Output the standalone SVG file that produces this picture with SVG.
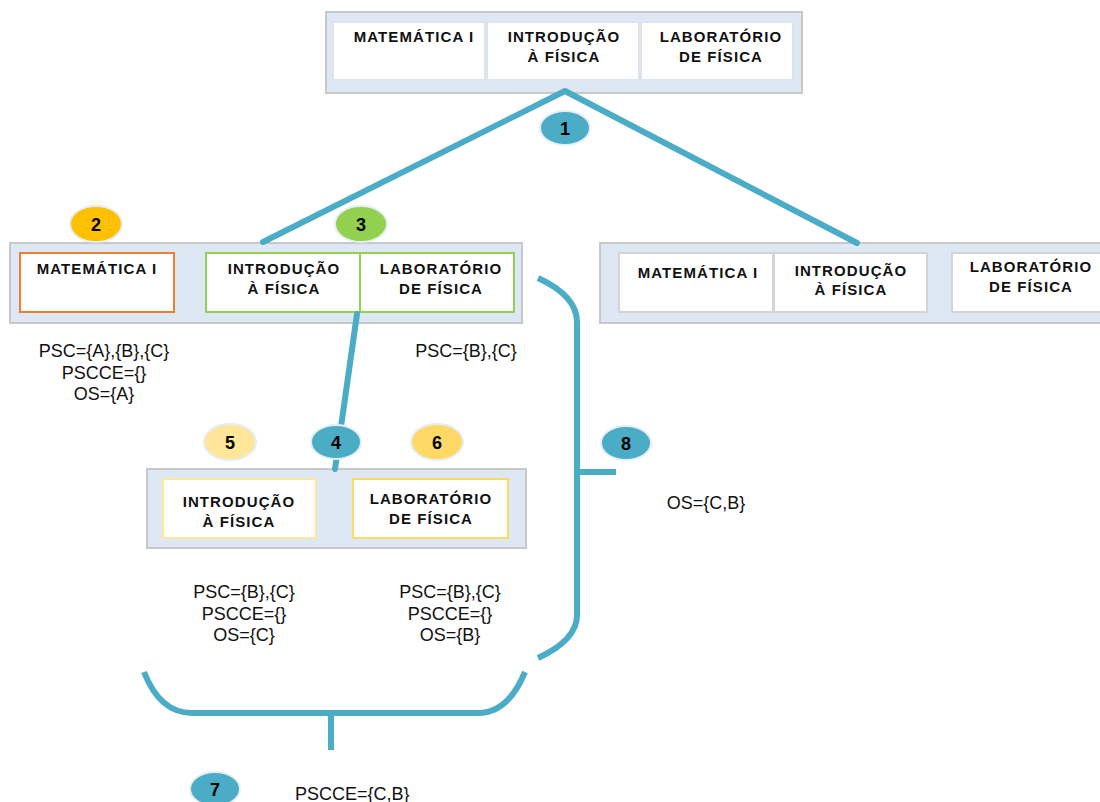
<svg xmlns="http://www.w3.org/2000/svg" width="1100" height="802" viewBox="0 0 1100 802">
<style>
.outer{fill:#dde8f4;stroke:#c8c8c8;stroke-width:2}
.cell{fill:#ffffff;stroke:#dde4ec;stroke-width:2}
.cellg{fill:#ffffff;stroke:#d4d4d4;stroke-width:2}
.t{font-family:"Liberation Sans",Arial,sans-serif;font-weight:bold;font-size:15px;letter-spacing:1.1px;fill:#111;text-anchor:middle}
.v{font-family:"Liberation Sans",Arial,sans-serif;font-size:18px;fill:#111;text-anchor:middle}
.n{font-family:"Liberation Sans",Arial,sans-serif;font-weight:bold;font-size:18px;fill:#000;text-anchor:middle}
.conn{fill:none;stroke:#4bacc6;stroke-width:6;stroke-linecap:round;stroke-linejoin:round}
.brk{fill:none;stroke:#4bacc6;stroke-width:6;stroke-linecap:butt}
.badge{stroke:#e4eef5;stroke-width:2}
</style>
<rect width="1100" height="802" fill="#ffffff"/>

<g id="node-top">
<rect class="outer" x="326" y="12" width="476" height="81"/>
<rect class="cell" x="333" y="22" width="152" height="58"/>
<rect class="cell" x="487" y="22" width="152" height="58"/>
<rect class="cell" x="641" y="22" width="152" height="58"/>
<text class="t" x="414" y="42">MATEMÁTICA I</text>
<text class="t" x="564" y="42">INTRODUÇÃO</text>
<text class="t" x="564" y="62">À FÍSICA</text>
<text class="t" x="721" y="42">LABORATÓRIO</text>
<text class="t" x="721" y="62">DE FÍSICA</text>
</g>

<g id="node-left">
<rect class="outer" x="10" y="243" width="512" height="80"/>
<rect x="20" y="253" width="154" height="59" fill="#ffffff" stroke="#ed7d31" stroke-width="2"/>
<rect x="206" y="253" width="308" height="59" fill="#ffffff" stroke="#92d050" stroke-width="2"/>
<line x1="360" y1="253" x2="360" y2="312" stroke="#92d050" stroke-width="2"/>
<text class="t" x="97" y="274">MATEMÁTICA I</text>
<text class="t" x="284" y="274">INTRODUÇÃO</text>
<text class="t" x="284" y="294">À FÍSICA</text>
<text class="t" x="441" y="274">LABORATÓRIO</text>
<text class="t" x="441" y="294">DE FÍSICA</text>
</g>

<g id="node-right">
<rect class="outer" x="600" y="243" width="510" height="80"/>
<rect class="cellg" x="619" y="253" width="154" height="59"/>
<rect class="cellg" x="774" y="253" width="153" height="59"/>
<rect class="cellg" x="952" y="253" width="160" height="59"/>
<text class="t" x="698" y="278">MATEMÁTICA I</text>
<text class="t" x="851" y="276">INTRODUÇÃO</text>
<text class="t" x="851" y="295">À FÍSICA</text>
<text class="t" x="1031" y="272">LABORATÓRIO</text>
<text class="t" x="1031" y="292">DE FÍSICA</text>
</g>

<g id="node-middle">
<rect class="outer" x="147" y="469" width="379" height="79"/>
<rect x="163" y="479" width="153" height="59" fill="#ffffff" stroke="#ffe699" stroke-width="2"/>
<rect x="353" y="479" width="155" height="59" fill="#ffffff" stroke="#ffd966" stroke-width="2"/>
<text class="t" x="239" y="507">INTRODUÇÃO</text>
<text class="t" x="239" y="527">À FÍSICA</text>
<text class="t" x="431" y="504">LABORATÓRIO</text>
<text class="t" x="431" y="524">DE FÍSICA</text>
</g>

<g id="labels">
<text class="v" x="104" y="357">PSC={A},{B},{C}</text>
<text class="v" x="104" y="379">PSCCE={}</text>
<text class="v" x="104" y="400">OS={A}</text>
<text class="v" x="466" y="357">PSC={B},{C}</text>
<text class="v" x="244" y="598">PSC={B},{C}</text>
<text class="v" x="244" y="620">PSCCE={}</text>
<text class="v" x="244" y="641">OS={C}</text>
<text class="v" x="450" y="598">PSC={B},{C}</text>
<text class="v" x="450" y="620">PSCCE={}</text>
<text class="v" x="450" y="641">OS={B}</text>
<text class="v" x="706" y="509">OS={C,B}</text>
<text class="v" x="295" y="800" style="text-anchor:start">PSCCE={C,B}</text>
</g>

<g id="connectors">
<polyline class="conn" points="263,242 565,91 857,243"/>
<line class="conn" x1="357" y1="314" x2="335" y2="469"/>
<path class="brk" d="M538,278 Q577,296 577,322 L577,615 Q577,640 538,658"/>
<line class="brk" x1="577" y1="472" x2="616" y2="472"/>
<path class="brk" d="M144,672 Q160,713 192,713 L478,713 Q508,713 525,672"/>
<line class="brk" x1="331" y1="713" x2="331" y2="750"/>
</g>

<g id="badges">
<g id="b1"><ellipse class="badge" cx="565" cy="128" rx="25" ry="17" fill="#4bacc6"/><text class="n" x="565" y="135">1</text></g>
<g id="b2"><ellipse class="badge" cx="96" cy="224" rx="26" ry="18" fill="#ffc000"/><text class="n" x="96" y="231">2</text></g>
<g id="b3"><ellipse class="badge" cx="361" cy="224" rx="26" ry="18" fill="#92d050"/><text class="n" x="361" y="231">3</text></g>
<g id="b4"><ellipse class="badge" cx="336" cy="442" rx="25" ry="17" fill="#4bacc6"/><text class="n" x="336" y="449">4</text></g>
<g id="b5"><ellipse class="badge" cx="230" cy="442" rx="26" ry="18" fill="#ffe699"/><text class="n" x="230" y="449">5</text></g>
<g id="b6"><ellipse class="badge" cx="437" cy="442" rx="26" ry="18" fill="#ffd966"/><text class="n" x="437" y="449">6</text></g>
<g id="b7"><ellipse class="badge" cx="215" cy="789" rx="25" ry="17" fill="#4bacc6"/><text class="n" x="215" y="796">7</text></g>
<g id="b8"><ellipse class="badge" cx="626" cy="443" rx="25" ry="17" fill="#4bacc6"/><text class="n" x="626" y="450">8</text></g>
</g>
</svg>
